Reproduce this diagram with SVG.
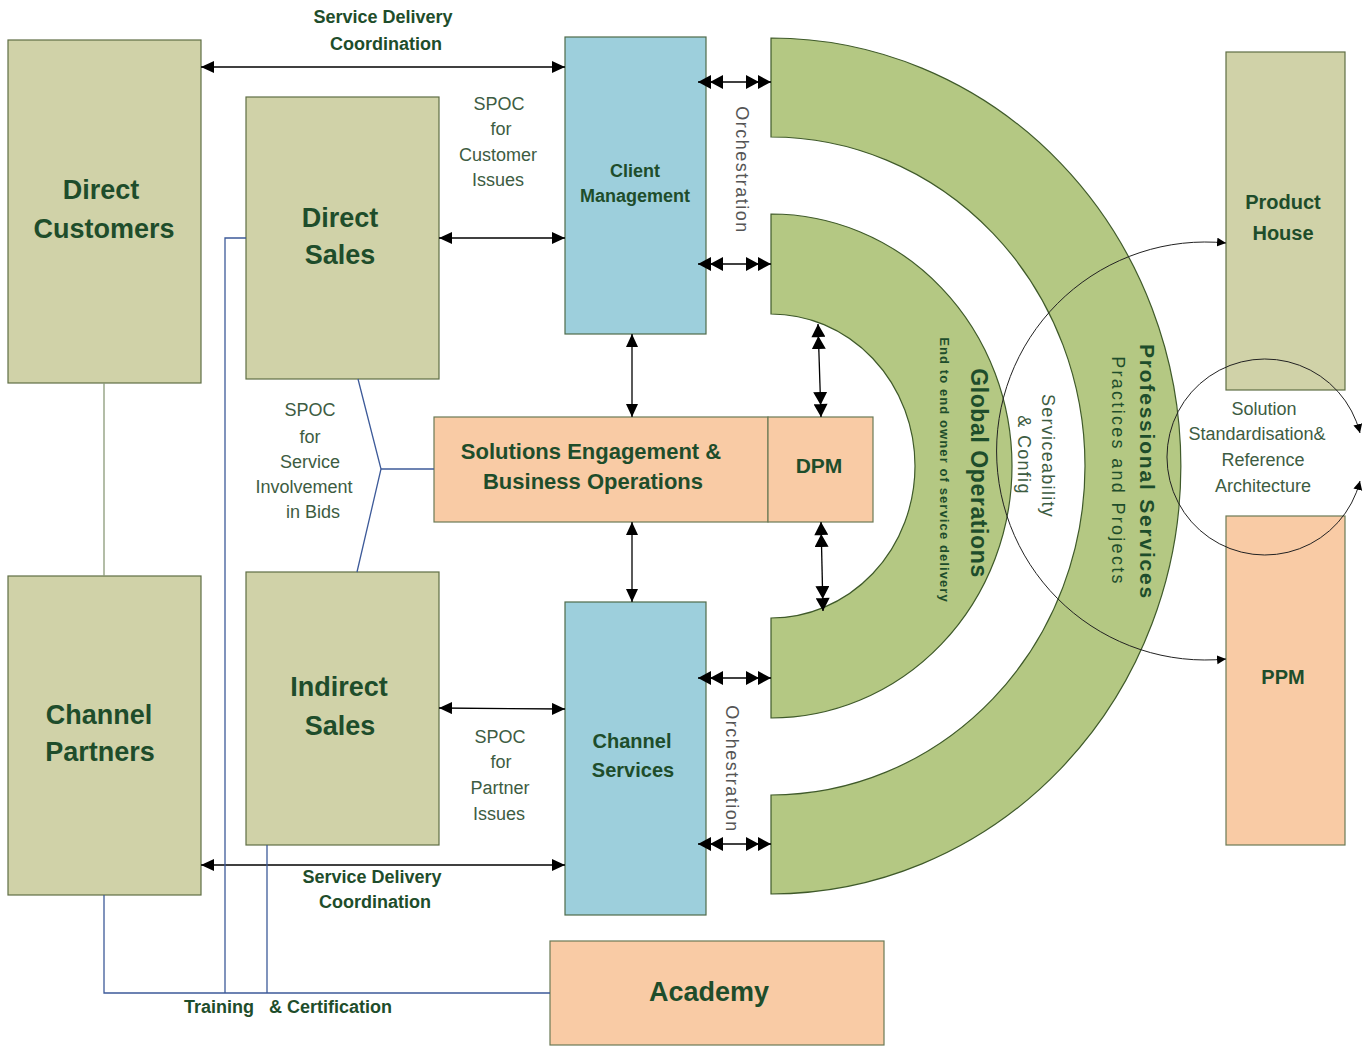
<svg xmlns="http://www.w3.org/2000/svg" width="1370" height="1046" viewBox="0 0 1370 1046">
<style>
.khaki{fill:#d0d2a8;stroke:#5f6e45;stroke-width:1.2}
.blue{fill:#9dcfdc;stroke:#4f6b4a;stroke-width:1.2}
.peach{fill:#f9cba5;stroke:#6b7a55;stroke-width:1.2}
.band{fill:#b4c883;stroke:#3f5a2a;stroke-width:1.2}
text{font-family:"Liberation Sans",Arial,sans-serif}
.big{font-size:27px;font-weight:bold;fill:#1e4d2b;text-anchor:middle}
.mid{font-size:20px;font-weight:bold;fill:#1e4d2b;text-anchor:middle}
.lbl{font-size:18px;font-weight:bold;fill:#1e4d2b;text-anchor:middle}
.reg{font-size:18px;fill:#3d5c42;text-anchor:middle}
.arr{stroke:#000;stroke-width:1.3;fill:none}
.thin{stroke:#222;stroke-width:1;fill:none}
.nav{stroke:#3d5a99;stroke-width:1.3;fill:none}
.gry{stroke:#8a9a78;stroke-width:1.3;fill:none}
</style>
<defs>
<marker id="a1" markerUnits="userSpaceOnUse" markerWidth="14" markerHeight="12" refX="13" refY="6" orient="auto-start-reverse">
<path d="M0,0 L13,6 L0,12 Z" fill="#000"/>
</marker>
<marker id="a2" markerUnits="userSpaceOnUse" markerWidth="26" markerHeight="14" refX="25" refY="7" orient="auto-start-reverse">
<path d="M0,0 L13,7 L0,14 Z M12,0 L25,7 L12,14 Z" fill="#000"/>
</marker>
<marker id="a3" markerUnits="userSpaceOnUse" markerWidth="10" markerHeight="10" refX="9" refY="4.5" orient="auto-start-reverse">
<path d="M0,0 L9,4.5 L0,9 Z" fill="#000"/>
</marker>
</defs>

<g id="bands">
<path id="professional-services" class="band" d="M771,38 A410,428 0 0 1 771,894 L771,795 A314,329 0 0 0 771,137 Z"/>
<path id="global-operations" class="band" d="M771,214 A241,252 0 0 1 771,718 L771,618 A144,152 0 0 0 771,314 Z"/>
</g>

<g id="direct-customers"><rect class="khaki" x="8" y="40" width="193" height="343"/>
<text class="big" x="101" y="199">Direct</text><text class="big" x="104" y="238">Customers</text></g>
<g id="direct-sales"><rect class="khaki" x="246" y="97" width="193" height="282"/>
<text class="big" x="340" y="227">Direct</text><text class="big" x="340" y="264">Sales</text></g>
<g id="channel-partners"><rect class="khaki" x="8" y="576" width="193" height="319"/>
<text class="big" x="99" y="724">Channel</text><text class="big" x="100" y="761">Partners</text></g>
<g id="indirect-sales"><rect class="khaki" x="246" y="572" width="193" height="273"/>
<text class="big" x="339" y="696">Indirect</text><text class="big" x="340" y="735">Sales</text></g>
<g id="client-management"><rect class="blue" x="565" y="37" width="141" height="297"/>
<text class="lbl" x="635" y="177">Client</text><text class="lbl" x="635" y="202">Management</text></g>
<g id="channel-services"><rect class="blue" x="565" y="602" width="141" height="313"/>
<text class="mid" x="632" y="748">Channel</text><text class="mid" x="633" y="777">Services</text></g>
<g id="solutions-engagement"><rect class="peach" x="434" y="417" width="334" height="105"/>
<text class="mid" x="591" y="459" style="font-size:22px">Solutions Engagement &amp;</text><text class="mid" x="593" y="489" style="font-size:22px">Business Operations</text></g>
<g id="dpm"><rect class="peach" x="768" y="417" width="105" height="105"/>
<text class="mid" x="819" y="473" style="font-size:21px">DPM</text></g>
<g id="academy"><rect class="peach" x="550" y="941" width="334" height="104"/>
<text class="big" x="709" y="1001">Academy</text></g>
<g id="product-house"><rect class="khaki" x="1226" y="52" width="119" height="338"/>
<text class="mid" x="1283" y="209">Product</text><text class="mid" x="1283" y="240">House</text></g>
<g id="ppm"><rect class="peach" x="1226" y="516" width="119" height="329"/>
<text class="mid" x="1283" y="684">PPM</text></g>

<g id="connectors">
<line class="arr" x1="201" y1="67" x2="565" y2="67" marker-start="url(#a1)" marker-end="url(#a1)"/>
<line class="arr" x1="439" y1="238" x2="565" y2="238" marker-start="url(#a1)" marker-end="url(#a1)"/>
<line class="arr" x1="632" y1="334" x2="632" y2="417" marker-start="url(#a1)" marker-end="url(#a1)"/>
<line class="arr" x1="632" y1="522" x2="632" y2="602" marker-start="url(#a1)" marker-end="url(#a1)"/>
<line class="arr" x1="439" y1="708" x2="565" y2="709" marker-start="url(#a1)" marker-end="url(#a1)"/>
<line class="arr" x1="201" y1="865" x2="565" y2="865" marker-start="url(#a1)" marker-end="url(#a1)"/>
<line class="arr" x1="698" y1="82" x2="771" y2="82" marker-start="url(#a2)" marker-end="url(#a2)"/>
<line class="arr" x1="698" y1="264" x2="771" y2="264" marker-start="url(#a2)" marker-end="url(#a2)"/>
<line class="arr" x1="698" y1="678" x2="771" y2="678" marker-start="url(#a2)" marker-end="url(#a2)"/>
<line class="arr" x1="698" y1="844" x2="771" y2="844" marker-start="url(#a2)" marker-end="url(#a2)"/>
<line class="arr" x1="818" y1="324" x2="821" y2="417" marker-start="url(#a2)" marker-end="url(#a2)"/>
<line class="arr" x1="821" y1="522" x2="823" y2="611" marker-start="url(#a2)" marker-end="url(#a2)"/>
<line class="gry" x1="104" y1="383" x2="104" y2="576"/>
<polyline class="nav" points="358,379 381,469 357,572"/>
<line class="nav" x1="381" y1="469" x2="434" y2="469"/>
<polyline class="nav" points="104,895 104,993 550,993"/>
<polyline class="nav" points="246,238 225,238 225,993"/>
<line class="nav" x1="267" y1="845" x2="267" y2="993"/>
<path class="thin" d="M1226,243 A209,209 0 1 0 1226,659" marker-start="url(#a3)" marker-end="url(#a3)"/>
<path class="thin" d="M1360,433 A98,98 0 1 0 1360,481" marker-start="url(#a3)" marker-end="url(#a3)"/>
</g>

<g id="labels">
<text class="lbl" x="383" y="23">Service Delivery</text>
<text class="lbl" x="386" y="50">Coordination</text>
<text class="reg" x="499" y="110">SPOC</text><text class="reg" x="501" y="135">for</text><text class="reg" x="498" y="161">Customer</text><text class="reg" x="498" y="186">Issues</text>
<text class="reg" x="310" y="416">SPOC</text><text class="reg" x="310" y="443">for</text><text class="reg" x="310" y="468">Service</text><text class="reg" x="304" y="493">Involvement</text><text class="reg" x="313" y="518">in Bids</text>
<text class="reg" x="500" y="743">SPOC</text><text class="reg" x="501" y="768">for</text><text class="reg" x="500" y="794">Partner</text><text class="reg" x="499" y="820">Issues</text>
<text class="lbl" x="372" y="883">Service Delivery</text>
<text class="lbl" x="375" y="908">Coordination</text>
<text class="lbl" x="288" y="1013" xml:space="preserve">Training   &amp; Certification</text>
<text class="reg" x="1264" y="415">Solution</text><text class="reg" x="1257" y="440">Standardisation&amp;</text><text class="reg" x="1263" y="466">Reference</text><text class="reg" x="1263" y="492">Architecture</text>
<text class="reg" transform="translate(742,170) rotate(90)" dy="0.35em" style="letter-spacing:1.5px;fill:#555">Orchestration</text>
<text class="reg" transform="translate(732,769) rotate(90)" dy="0.35em" style="letter-spacing:1.5px;fill:#555">Orchestration</text>
<text class="mid" transform="translate(979,473) rotate(90)" dy="0.35em" style="font-size:23px;letter-spacing:0.6px">Global Operations</text>
<text class="mid" transform="translate(945,470) rotate(90)" dy="0.35em" style="font-size:13px;letter-spacing:1.1px">End to end owner of service delivery</text>
<text class="reg" transform="translate(1048,456) rotate(90)" dy="0.35em" style="letter-spacing:1.3px">Serviceability</text>
<text class="reg" transform="translate(1024,455) rotate(90)" dy="0.35em" style="letter-spacing:1.3px">&amp; Config</text>
<text class="mid" transform="translate(1147,472) rotate(90)" dy="0.35em" style="font-size:21px;letter-spacing:1.8px">Professional Services</text>
<text class="reg" transform="translate(1118,471) rotate(90)" dy="0.35em" style="letter-spacing:2.3px;fill:#1e4d2b">Practices and Projects</text>
</g>
</svg>
